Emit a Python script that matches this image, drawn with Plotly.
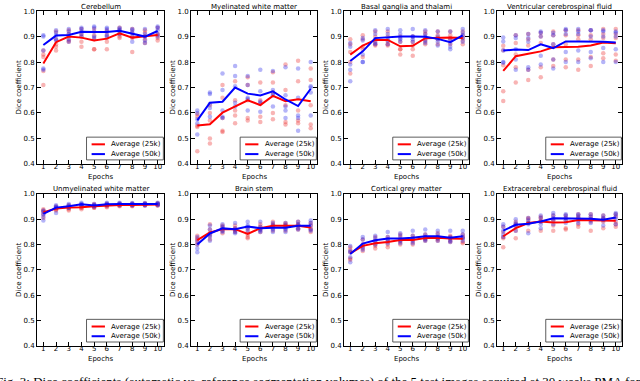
import plotly.graph_objects as go

epochs = list(range(1, 11))
x_ticks = list(range(1, 11))
y_ticks = [0.4, 0.5, 0.6, 0.7, 0.8, 0.9, 1.0]
y_tick_labels = ["0.4", "0.5", "0.6", "0.7", "0.8", "0.9", "1.0"]

panel_titles = ["Cerebellum", "Myelinated white matter", "Basal ganglia and thalami",
                "Ventricular cerebrospinal fluid", "Unmyelinated white matter", "Brain stem",
                "Cortical grey matter", "Extracerebral cerebrospinal fluid"]
series_names = ["Average (25k)", "Average (50k)"]
x_label = "Epochs"
y_label = "Dice coefficient"
caption = ("Fig. 3: Dice coefficients (automatic vs. reference segmentation volumes) "
           "of the 5 test images acquired at 30 weeks PMA for")

# ---- Cerebellum ----
cerebellum_avg_25k = [0.794, 0.878, 0.900, 0.896, 0.885, 0.892, 0.913, 0.896, 0.901, 0.906]
cerebellum_avg_50k = [0.867, 0.904, 0.906, 0.919, 0.918, 0.918, 0.923, 0.910, 0.900, 0.922]
cerebellum_pts_25k = [[0.845, 0.82, 0.765, 0.71, 0.83], [0.92, 0.89, 0.87, 0.86, 0.845],
                      [0.925, 0.91, 0.90, 0.885, 0.88], [0.93, 0.91, 0.90, 0.88, 0.86],
                      [0.93, 0.905, 0.89, 0.85, 0.85], [0.925, 0.91, 0.895, 0.88, 0.85],
                      [0.935, 0.925, 0.91, 0.90, 0.895], [0.93, 0.915, 0.90, 0.895, 0.84],
                      [0.925, 0.915, 0.90, 0.89, 0.875], [0.935, 0.91, 0.905, 0.895, 0.885]]
cerebellum_pts_50k = [[0.905, 0.90, 0.845, 0.775, 0.77], [0.925, 0.915, 0.905, 0.89, 0.885],
                      [0.93, 0.92, 0.91, 0.89, 0.88], [0.935, 0.93, 0.92, 0.91, 0.90],
                      [0.94, 0.935, 0.92, 0.90, 0.895], [0.935, 0.93, 0.92, 0.905, 0.90],
                      [0.935, 0.93, 0.925, 0.915, 0.91], [0.93, 0.925, 0.915, 0.90, 0.88],
                      [0.93, 0.91, 0.90, 0.885, 0.875], [0.94, 0.935, 0.925, 0.91, 0.90]]

# ---- Myelinated white matter ----
myelinated_avg_25k = [0.551, 0.556, 0.601, 0.627, 0.650, 0.631, 0.667, 0.646, 0.654, 0.646]
myelinated_avg_50k = [0.571, 0.640, 0.644, 0.700, 0.676, 0.669, 0.685, 0.653, 0.627, 0.695]
myelinated_pts_25k = [[0.595, 0.585, 0.55, 0.545, 0.45], [0.63, 0.60, 0.57, 0.50, 0.48],
                      [0.71, 0.66, 0.58, 0.53, 0.525], [0.725, 0.65, 0.61, 0.59, 0.56],
                      [0.74, 0.71, 0.65, 0.58, 0.57], [0.72, 0.65, 0.635, 0.585, 0.565],
                      [0.76, 0.72, 0.68, 0.60, 0.575], [0.79, 0.69, 0.63, 0.565, 0.555],
                      [0.805, 0.725, 0.61, 0.57, 0.56], [0.775, 0.73, 0.63, 0.555, 0.54]]
myelinated_pts_50k = [[0.61, 0.60, 0.575, 0.515, 0.56], [0.68, 0.675, 0.635, 0.62, 0.585],
                      [0.755, 0.69, 0.61, 0.585, 0.58], [0.785, 0.745, 0.705, 0.64, 0.625],
                      [0.745, 0.71, 0.66, 0.655, 0.61], [0.77, 0.685, 0.645, 0.64, 0.605],
                      [0.765, 0.69, 0.675, 0.67, 0.625], [0.78, 0.67, 0.625, 0.61, 0.58],
                      [0.775, 0.66, 0.59, 0.58, 0.53], [0.80, 0.705, 0.70, 0.68, 0.59]]

# ---- Basal ganglia and thalami ----
basal_avg_25k = [0.829, 0.865, 0.887, 0.887, 0.862, 0.864, 0.894, 0.896, 0.896, 0.895]
basal_avg_50k = [0.804, 0.842, 0.894, 0.897, 0.900, 0.900, 0.899, 0.891, 0.878, 0.905]
basal_pts_25k = [[0.89, 0.87, 0.84, 0.80, 0.755], [0.905, 0.89, 0.86, 0.85, 0.82],
                 [0.92, 0.90, 0.88, 0.87, 0.865], [0.92, 0.90, 0.88, 0.87, 0.865],
                 [0.90, 0.88, 0.85, 0.85, 0.83], [0.90, 0.88, 0.865, 0.85, 0.825],
                 [0.92, 0.91, 0.89, 0.88, 0.87], [0.92, 0.905, 0.895, 0.89, 0.87],
                 [0.92, 0.905, 0.895, 0.89, 0.87], [0.92, 0.905, 0.895, 0.885, 0.87]]
basal_pts_50k = [[0.875, 0.86, 0.79, 0.77, 0.725], [0.895, 0.885, 0.83, 0.80, 0.80],
                 [0.925, 0.91, 0.89, 0.875, 0.87], [0.93, 0.91, 0.89, 0.885, 0.87],
                 [0.925, 0.91, 0.895, 0.89, 0.88], [0.93, 0.90, 0.90, 0.89, 0.88],
                 [0.925, 0.91, 0.90, 0.885, 0.875], [0.92, 0.90, 0.89, 0.88, 0.865],
                 [0.92, 0.89, 0.875, 0.86, 0.85], [0.93, 0.915, 0.905, 0.895, 0.88]]

# ---- Ventricular cerebrospinal fluid ----
ventricular_avg_25k = [0.765, 0.823, 0.833, 0.842, 0.858, 0.858, 0.860, 0.865, 0.877, 0.874]
ventricular_avg_50k = [0.845, 0.849, 0.847, 0.870, 0.855, 0.881, 0.881, 0.881, 0.880, 0.877]
ventricular_pts_25k = [[0.864, 0.846, 0.787, 0.685, 0.647], [0.905, 0.875, 0.83, 0.78, 0.72],
                       [0.91, 0.89, 0.865, 0.77, 0.73], [0.915, 0.90, 0.875, 0.78, 0.74],
                       [0.92, 0.905, 0.87, 0.81, 0.785], [0.925, 0.905, 0.87, 0.81, 0.78],
                       [0.925, 0.905, 0.89, 0.81, 0.77], [0.925, 0.905, 0.89, 0.82, 0.785],
                       [0.93, 0.91, 0.895, 0.835, 0.815], [0.93, 0.91, 0.895, 0.83, 0.805]]
ventricular_pts_50k = [[0.896, 0.881, 0.845, 0.797, 0.80], [0.905, 0.895, 0.85, 0.81, 0.77],
                       [0.91, 0.895, 0.88, 0.78, 0.77], [0.92, 0.915, 0.90, 0.825, 0.79],
                       [0.915, 0.905, 0.87, 0.81, 0.775], [0.93, 0.925, 0.91, 0.84, 0.80],
                       [0.93, 0.92, 0.91, 0.845, 0.80], [0.925, 0.925, 0.90, 0.84, 0.815],
                       [0.925, 0.92, 0.90, 0.855, 0.80], [0.92, 0.915, 0.90, 0.85, 0.80]]

# ---- Unmyelinated white matter ----
unmyelinated_avg_25k = [0.928, 0.942, 0.946, 0.947, 0.951, 0.954, 0.956, 0.956, 0.958, 0.958]
unmyelinated_avg_50k = [0.921, 0.946, 0.951, 0.959, 0.954, 0.959, 0.960, 0.959, 0.959, 0.960]
unmyelinated_pts_25k = [[0.94, 0.935, 0.93, 0.92, 0.905], [0.95, 0.945, 0.94, 0.94, 0.935],
                        [0.955, 0.95, 0.945, 0.94, 0.935], [0.955, 0.95, 0.945, 0.945, 0.94],
                        [0.96, 0.955, 0.95, 0.945, 0.945], [0.96, 0.958, 0.955, 0.95, 0.947],
                        [0.962, 0.958, 0.956, 0.953, 0.951], [0.962, 0.958, 0.956, 0.953, 0.951],
                        [0.963, 0.96, 0.958, 0.955, 0.954], [0.963, 0.96, 0.958, 0.955, 0.954]]
unmyelinated_pts_50k = [[0.935, 0.93, 0.92, 0.91, 0.895], [0.955, 0.95, 0.945, 0.945, 0.925],
                        [0.96, 0.955, 0.95, 0.945, 0.945], [0.965, 0.96, 0.96, 0.955, 0.955],
                        [0.96, 0.955, 0.955, 0.95, 0.95], [0.965, 0.962, 0.958, 0.956, 0.954],
                        [0.965, 0.962, 0.96, 0.958, 0.955], [0.964, 0.961, 0.959, 0.957, 0.954],
                        [0.964, 0.961, 0.959, 0.957, 0.954], [0.965, 0.962, 0.96, 0.958, 0.955]]

# ---- Brain stem ----
brainstem_avg_25k = [0.818, 0.848, 0.861, 0.861, 0.842, 0.865, 0.874, 0.873, 0.874, 0.867]
brainstem_avg_50k = [0.800, 0.844, 0.864, 0.861, 0.871, 0.865, 0.867, 0.867, 0.874, 0.874]
brainstem_pts_25k = [[0.835, 0.825, 0.82, 0.81, 0.80], [0.88, 0.86, 0.845, 0.835, 0.82],
                     [0.875, 0.87, 0.86, 0.855, 0.845], [0.875, 0.865, 0.86, 0.855, 0.85],
                     [0.865, 0.85, 0.84, 0.83, 0.825], [0.88, 0.87, 0.865, 0.86, 0.85],
                     [0.89, 0.88, 0.875, 0.87, 0.855], [0.885, 0.88, 0.875, 0.87, 0.855],
                     [0.89, 0.88, 0.875, 0.865, 0.86], [0.885, 0.875, 0.865, 0.86, 0.85]]
brainstem_pts_50k = [[0.83, 0.815, 0.80, 0.785, 0.77], [0.875, 0.86, 0.84, 0.83, 0.815],
                     [0.88, 0.87, 0.865, 0.855, 0.85], [0.885, 0.865, 0.86, 0.85, 0.845],
                     [0.89, 0.875, 0.87, 0.865, 0.855], [0.89, 0.87, 0.86, 0.855, 0.85],
                     [0.885, 0.875, 0.865, 0.86, 0.85], [0.885, 0.875, 0.865, 0.86, 0.85],
                     [0.89, 0.88, 0.875, 0.865, 0.86], [0.895, 0.885, 0.875, 0.86, 0.855]]

# ---- Cortical grey matter ----
cortical_avg_25k = [0.765, 0.795, 0.805, 0.810, 0.818, 0.818, 0.826, 0.827, 0.824, 0.823]
cortical_avg_50k = [0.763, 0.804, 0.817, 0.824, 0.824, 0.827, 0.833, 0.833, 0.827, 0.833]
cortical_pts_25k = [[0.79, 0.78, 0.77, 0.745, 0.74], [0.82, 0.80, 0.795, 0.785, 0.775],
                    [0.83, 0.815, 0.80, 0.795, 0.785], [0.83, 0.82, 0.81, 0.80, 0.79],
                    [0.84, 0.83, 0.815, 0.81, 0.80], [0.835, 0.825, 0.82, 0.81, 0.80],
                    [0.84, 0.83, 0.825, 0.82, 0.815], [0.845, 0.83, 0.825, 0.82, 0.815],
                    [0.835, 0.83, 0.825, 0.815, 0.81], [0.84, 0.83, 0.825, 0.81, 0.805]]
cortical_pts_50k = [[0.795, 0.775, 0.77, 0.75, 0.73], [0.83, 0.82, 0.80, 0.79, 0.78],
                    [0.835, 0.825, 0.815, 0.81, 0.80], [0.85, 0.83, 0.82, 0.815, 0.805],
                    [0.845, 0.835, 0.82, 0.815, 0.805], [0.855, 0.835, 0.825, 0.815, 0.805],
                    [0.86, 0.84, 0.83, 0.82, 0.815], [0.855, 0.84, 0.83, 0.825, 0.815],
                    [0.855, 0.83, 0.825, 0.815, 0.81], [0.855, 0.84, 0.83, 0.825, 0.815]]

# ---- Extracerebral cerebrospinal fluid ----
extracerebral_avg_25k = [0.833, 0.865, 0.885, 0.891, 0.887, 0.888, 0.897, 0.895, 0.895, 0.894]
extracerebral_avg_50k = [0.855, 0.878, 0.882, 0.891, 0.904, 0.904, 0.904, 0.902, 0.898, 0.907]
extracerebral_pts_25k = [[0.87, 0.85, 0.83, 0.825, 0.79], [0.89, 0.88, 0.875, 0.855, 0.825],
                         [0.905, 0.90, 0.885, 0.885, 0.855], [0.91, 0.905, 0.895, 0.89, 0.855],
                         [0.915, 0.90, 0.895, 0.875, 0.855], [0.915, 0.905, 0.895, 0.865, 0.86],
                         [0.92, 0.91, 0.905, 0.88, 0.87], [0.92, 0.91, 0.90, 0.89, 0.855],
                         [0.915, 0.905, 0.90, 0.89, 0.865], [0.92, 0.91, 0.89, 0.88, 0.87]]
extracerebral_pts_50k = [[0.88, 0.87, 0.855, 0.84, 0.83], [0.90, 0.885, 0.88, 0.87, 0.855],
                         [0.905, 0.895, 0.885, 0.88, 0.845], [0.915, 0.905, 0.89, 0.88, 0.865],
                         [0.925, 0.915, 0.905, 0.895, 0.88], [0.92, 0.915, 0.905, 0.895, 0.885],
                         [0.92, 0.915, 0.905, 0.895, 0.885], [0.92, 0.91, 0.90, 0.895, 0.885],
                         [0.915, 0.905, 0.90, 0.895, 0.875], [0.925, 0.92, 0.91, 0.90, 0.88]]

panels = [
    (cerebellum_pts_25k, cerebellum_pts_50k, cerebellum_avg_25k, cerebellum_avg_50k),
    (myelinated_pts_25k, myelinated_pts_50k, myelinated_avg_25k, myelinated_avg_50k),
    (basal_pts_25k, basal_pts_50k, basal_avg_25k, basal_avg_50k),
    (ventricular_pts_25k, ventricular_pts_50k, ventricular_avg_25k, ventricular_avg_50k),
    (unmyelinated_pts_25k, unmyelinated_pts_50k, unmyelinated_avg_25k, unmyelinated_avg_50k),
    (brainstem_pts_25k, brainstem_pts_50k, brainstem_avg_25k, brainstem_avg_50k),
    (cortical_pts_25k, cortical_pts_50k, cortical_avg_25k, cortical_avg_50k),
    (extracerebral_pts_25k, extracerebral_pts_50k, extracerebral_avg_25k, extracerebral_avg_50k),
]

# ---- layout geometry (pixels in a 640x381 canvas) ----
W, H = 640, 381
col_px = [(37, 164), (191, 317), (344, 469), (497, 622)]
row_px = [(7.3, 163.3), (194, 349.3)]

FONT = "DejaVu Sans"
RED = "rgb(255,0,0)"
BLUE = "rgb(0,0,255)"
RED_PT = "rgba(235,40,40,0.35)"
BLUE_PT = "rgba(40,40,235,0.35)"

fig = go.Figure()
layout = dict(
    width=W, height=H, margin=dict(l=0, r=0, t=0, b=0),
    paper_bgcolor="white", plot_bgcolor="white", showlegend=False,
    font=dict(family=FONT, size=7, color="black"),
)
annotations = []
shapes = []

for i, (p25, p50, a25, a50) in enumerate(panels):
    r, c = divmod(i, 4)
    n = "" if i == 0 else str(i + 1)
    xa, ya = "x" + n, "y" + n
    x0, x1 = col_px[c]
    ytop, ybot = row_px[r]
    layout["xaxis" + n] = dict(
        domain=[x0 / W, x1 / W], anchor=ya, range=[0.5, 10.5],
        tickmode="array", tickvals=x_ticks, ticktext=[str(t) for t in x_ticks],
        ticks="inside", ticklen=4, tickwidth=0.7, tickcolor="black",
        showline=True, linecolor="black", linewidth=1, mirror="allticks",
        showgrid=False, zeroline=False, tickfont=dict(family=FONT, size=7),
        ticklabelstandoff=-4,
    )
    layout["yaxis" + n] = dict(
        domain=[1 - ybot / H, 1 - ytop / H], anchor=xa, range=[0.4, 1.0],
        tickmode="array", tickvals=y_ticks, ticktext=y_tick_labels,
        ticks="inside", ticklen=4, tickwidth=0.7, tickcolor="black",
        showline=True, linecolor="black", linewidth=1, mirror="allticks",
        showgrid=False, zeroline=False, tickfont=dict(family=FONT, size=7),
    )
    # scatter points
    for pts, col in ((p25, RED_PT), (p50, BLUE_PT)):
        xs, ys = [], []
        for e, vals in zip(epochs, pts):
            xs += [e] * len(vals)
            ys += vals
        fig.add_trace(go.Scatter(x=xs, y=ys, mode="markers", xaxis=xa, yaxis=ya,
                                 marker=dict(size=4.5, color=col, line=dict(width=0)),
                                 hoverinfo="skip"))
    fig.add_trace(go.Scatter(x=epochs, y=a25, mode="lines", xaxis=xa, yaxis=ya,
                             line=dict(color=RED, width=2), name=series_names[0]))
    fig.add_trace(go.Scatter(x=epochs, y=a50, mode="lines", xaxis=xa, yaxis=ya,
                             line=dict(color=BLUE, width=2), name=series_names[1]))

    xd = xa + " domain"
    yd = ya + " domain"
    # title
    annotations.append(dict(text=panel_titles[i], xref=xd, yref=yd, x=0.5, y=1,
                            xanchor="center", yanchor="middle", yshift=4.5,
                            showarrow=False, font=dict(family=FONT, size=7)))
    # axis labels
    annotations.append(dict(text=x_label, xref=xd, yref=yd, x=0.5, y=0,
                            xanchor="center", yanchor="middle", yshift=-13,
                            showarrow=False, font=dict(family=FONT, size=7)))
    annotations.append(dict(text=y_label, xref=xd, yref=yd, x=0, y=0.5,
                            xanchor="center", yanchor="middle", xshift=-18,
                            textangle=-90, showarrow=False, font=dict(family=FONT, size=7)))
    # manual legend box
    shapes.append(dict(type="rect", xref=xd, yref=yd, x0=0.39, x1=0.995, y0=0.026, y1=0.175,
                       line=dict(color="#333", width=0.8), fillcolor="white", layer="above"))
    for k, (col, yy) in enumerate(((RED, 0.128), (BLUE, 0.064))):
        shapes.append(dict(type="line", xref=xd, yref=yd, x0=0.43, x1=0.535, y0=yy, y1=yy,
                           line=dict(color=col, width=2), layer="above"))
        annotations.append(dict(text=series_names[k], xref=xd, yref=yd, x=0.57, y=yy,
                                xanchor="left", yanchor="middle", showarrow=False,
                                font=dict(family=FONT, size=7)))

annotations.append(dict(text=caption, xref="paper", yref="paper", x=0, y=1 - 375.5 / H,
                        xanchor="left", yanchor="top", xshift=-6, showarrow=False,
                        font=dict(family="Liberation Serif", size=13, color="black")))

layout["annotations"] = annotations
layout["shapes"] = shapes
fig.update_layout(**layout)
fig.write_html("out.html", config={"displayModeBar": False},
               post_script="document.body.style.margin='0';")
